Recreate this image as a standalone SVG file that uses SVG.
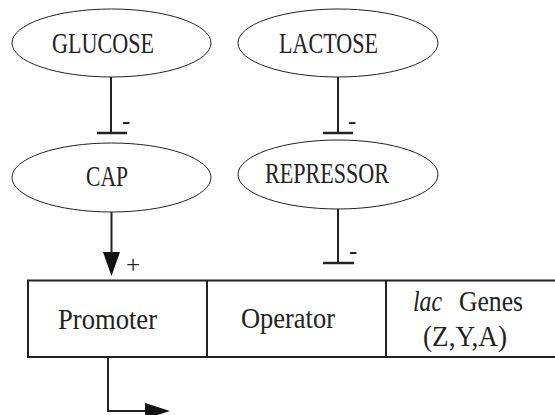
<svg xmlns="http://www.w3.org/2000/svg" width="555" height="415" viewBox="0 0 555 415">
<style>
.node ellipse{fill:#fff;stroke:#222;stroke-width:1}
text{font-family:'Liberation Serif','Times New Roman',serif;fill:#222}
.lbl{font-size:29px}
.sign{font-size:25px}
.ln{fill:none;stroke:#222;stroke-width:2}
.bar{stroke:#222;stroke-width:2.5}
.box{fill:#fff;stroke:#222;stroke-width:2}
.head{fill:#111}
</style>
<rect width="555" height="415" fill="#fff"/>
<g id="glucose" class="node">
<ellipse cx="111.5" cy="43" rx="99.5" ry="34"/>
<text class="lbl" x="52" y="53" textLength="102" lengthAdjust="spacingAndGlyphs">GLUCOSE</text>
</g>
<g id="lactose" class="node">
<ellipse cx="338" cy="43" rx="100" ry="34"/>
<text class="lbl" x="279" y="53" textLength="99" lengthAdjust="spacingAndGlyphs">LACTOSE</text>
</g>
<g id="cap" class="node">
<ellipse cx="111.5" cy="177.5" rx="99.5" ry="34.5"/>
<text class="lbl" x="86" y="186" textLength="42" lengthAdjust="spacingAndGlyphs">CAP</text>
</g>
<g id="repressor" class="node">
<ellipse cx="338" cy="174.5" rx="100" ry="34.5"/>
<text class="lbl" x="265" y="183" textLength="124" lengthAdjust="spacingAndGlyphs">REPRESSOR</text>
</g>
<g id="operon">
<rect class="box" x="28" y="280.5" width="540" height="76.5"/>
<line class="ln" x1="207" y1="280.5" x2="207" y2="357"/>
<line class="ln" x1="386" y1="280.5" x2="386" y2="357"/>
<text class="lbl" x="58" y="329" textLength="99" lengthAdjust="spacingAndGlyphs">Promoter</text>
<text class="lbl" x="241" y="328" textLength="94" lengthAdjust="spacingAndGlyphs">Operator</text>
<text class="lbl" x="413" y="311" textLength="29" lengthAdjust="spacingAndGlyphs" font-style="italic">lac</text>
<text class="lbl" x="459" y="311" textLength="64" lengthAdjust="spacingAndGlyphs">Genes</text>
<text class="lbl" x="423" y="346" textLength="84" lengthAdjust="spacingAndGlyphs">(Z,Y,A)</text>
</g>
<g id="connectors">
<line class="ln" x1="111" y1="77" x2="111" y2="133"/>
<line class="bar" x1="97" y1="133" x2="127" y2="133"/>
<text class="sign" x="122" y="129">-</text>
<line class="ln" x1="338" y1="77" x2="338" y2="133"/>
<line class="bar" x1="323" y1="133" x2="353" y2="133"/>
<text class="sign" x="348" y="129">-</text>
<line class="ln" x1="338" y1="209" x2="338" y2="263"/>
<line class="bar" x1="323" y1="263" x2="354" y2="263"/>
<text class="sign" x="349" y="259">-</text>
<line class="ln" x1="111.5" y1="212" x2="111.5" y2="254"/>
<polygon class="head" points="103,252 120,252 111.5,276"/>
<text class="sign" x="126" y="273">+</text>
<polyline class="ln" points="108,357 108,411 147,411"/>
<polygon class="head" points="145,403 170,411 145,419"/>
</g>
</svg>
